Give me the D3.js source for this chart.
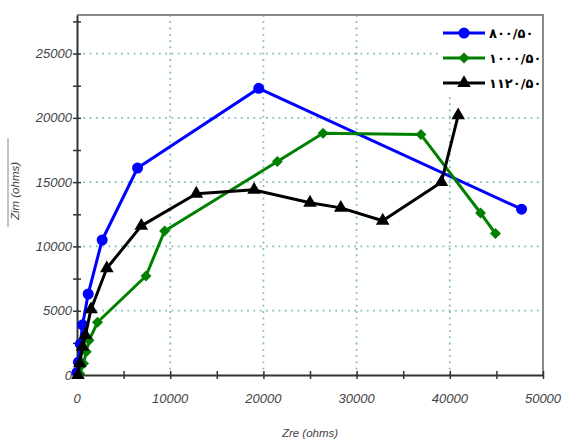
<!DOCTYPE html>
<html>
<head>
<meta charset="utf-8">
<script src="https://cdn.jsdelivr.net/npm/d3@7"></script>
<style>
  body { margin: 0; background: #fff; }
  svg { display: block; }
</style>
</head>
<body>
<div class="visHolder"></div>
<script>
// Series data (Zre, Zim in ohms)
const blueX = [0, 150, 350, 600, 1200, 2700, 6500, 19500, 47700];
const blueY = [200, 1000, 2400, 3900, 6300, 10500, 16100, 22300, 12900];

const greenX = [300, 700, 1000, 1300, 2200, 7400, 9400, 21500, 26400, 36900, 43300, 44900];
const greenY = [100, 900, 1800, 2700, 4100, 7700, 11200, 16600, 18800, 18700, 12600, 11000];

const blackX = [100, 300, 600, 900, 1500, 3200, 6900, 12800, 19000, 25000, 28300, 32800, 39100, 40900];
const blackY = [0, 900, 2200, 3100, 5100, 8300, 11600, 14100, 14400, 13400, 13000, 12000, 15000, 20200];

const seriesNames = ["۸۰۰/۵۰", "۱۰۰۰/۵۰", "۱۱۲۰/۵۰"];
const xTicks = [0, 10000, 20000, 30000, 40000, 50000];
const yTicks = [0, 5000, 10000, 15000, 20000, 25000];

const margin = {top: 15, right: 19, bottom: 66, left: 77},
    width = 562 - margin.left - margin.right,
    height = 441 - margin.top - margin.bottom;

const x = d3.scaleLinear().domain([0, 50000]).range([0, width]);
const y = d3.scaleLinear().domain([0, 28000]).range([height, 0]);

const svg = d3.select(".visHolder").append("svg")
    .attr("width", 562)
    .attr("height", 441)
  .append("g")
    .attr("transform", "translate(" + margin.left + "," + margin.top + ")");

// dotted grid
svg.selectAll(".vgrid")
    .data(xTicks.filter(d => d > 0 && d < 50000))
    .enter().append("line")
    .attr("x1", d => x(d)).attr("x2", d => x(d))
    .attr("y1", 0).attr("y2", height)
    .attr("stroke", "#86bcbc").attr("stroke-width", 1.8)
    .attr("stroke-dasharray", "1.8,4.5");
svg.selectAll(".hgrid")
    .data(yTicks.filter(d => d > 0))
    .enter().append("line")
    .attr("x1", 0).attr("x2", width)
    .attr("y1", d => y(d)).attr("y2", d => y(d))
    .attr("stroke", "#86bcbc").attr("stroke-width", 1.8)
    .attr("stroke-dasharray", "1.8,4.5");

// frame (top & right)
svg.append("path")
    .attr("d", `M0,0H${width}V${height}`)
    .attr("fill", "none")
    .attr("stroke", "#8a8a8a")
    .attr("stroke-width", 2);

// axes
const xAxis = svg.append("g")
    .attr("transform", "translate(0," + height + ")")
    .call(d3.axisBottom(x).tickValues(d3.range(0, 50001, 5000)).tickSize(0).tickFormat(""));
xAxis.select(".domain").attr("stroke", "#333").attr("stroke-width", 2);
xAxis.selectAll(".tick line").attr("y1", -4).attr("y2", 4).attr("stroke", "#333").attr("stroke-width", 1.5);

const yAxis = svg.append("g")
    .call(d3.axisLeft(y).tickValues(d3.range(0, 27501, 2500)).tickSize(0).tickFormat(""));
yAxis.select(".domain").attr("stroke", "#333").attr("stroke-width", 2);
yAxis.selectAll(".tick line").attr("x1", -4).attr("x2", 4).attr("stroke", "#333").attr("stroke-width", 1.5);

// tick labels
svg.selectAll(".xl")
    .data(xTicks)
    .enter().append("text")
    .attr("x", d => x(d))
    .attr("y", height + 28)
    .attr("text-anchor", "middle")
    .style("font-family", "Liberation Sans")
    .style("font-style", "italic")
    .style("font-size", "13px")
    .attr("fill", "#444")
    .text(d => d);
svg.selectAll(".yl")
    .data(yTicks)
    .enter().append("text")
    .attr("x", -5)
    .attr("y", d => y(d) + 4.5)
    .attr("text-anchor", "end")
    .style("font-family", "Liberation Sans")
    .style("font-style", "italic")
    .style("font-size", "13px")
    .attr("fill", "#444")
    .text(d => d);

// axis titles
svg.append("text")
    .attr("x", width / 2)
    .attr("y", height + 62)
    .attr("text-anchor", "middle")
    .style("font-family", "Liberation Sans")
    .style("font-style", "italic")
    .style("font-size", "11.5px")
    .attr("fill", "#444")
    .text("Zre (ohms)");
svg.append("text")
    .attr("transform", "translate(" + (-58) + "," + 176 + ") rotate(-90)")
    .attr("text-anchor", "middle")
    .style("font-family", "Liberation Sans")
    .style("font-style", "italic")
    .style("font-size", "11.5px")
    .attr("fill", "#444")
    .text("Zim (ohms)");
svg.append("line")
    .attr("x1", -69).attr("x2", -69)
    .attr("y1", 123).attr("y2", 212)
    .attr("stroke", "#888").attr("stroke-width", 1);

// series
const series = [
  {xs: blueX, ys: blueY, color: "#0000ff", symbol: d3.symbolCircle, size: 95, rot: 0},
  {xs: greenX, ys: greenY, color: "#008000", symbol: d3.symbolSquare, size: 60, rot: 45},
  {xs: blackX, ys: blackY, color: "#000000", symbol: d3.symbolTriangle, size: 80, rot: 0}
];

const line = d3.line().x(d => x(d[0])).y(d => y(d[1]));

series.forEach(s => {
  const pts = s.xs.map((v, i) => [v, s.ys[i]]);
  svg.append("path")
      .datum(pts)
      .attr("d", line)
      .attr("fill", "none")
      .attr("stroke", s.color)
      .attr("stroke-width", 3)
      .attr("stroke-linejoin", "round");
  svg.selectAll(null)
      .data(pts)
      .enter().append("path")
      .attr("d", d3.symbol().type(s.symbol).size(s.size))
      .attr("transform", d => "translate(" + x(d[0]) + "," + y(d[1]) + ") rotate(" + s.rot + ")")
      .attr("fill", s.color);
});

// legend
const legend = svg.append("g");
legend.append("rect")
    .attr("x", 362).attr("y", 1)
    .attr("width", width - 363).attr("height", 80)
    .attr("fill", "#fff");
series.forEach((s, i) => {
  const ly = 18 + i * 25;
  legend.append("line")
      .attr("x1", 366).attr("x2", 408)
      .attr("y1", ly).attr("y2", ly)
      .attr("stroke", s.color).attr("stroke-width", 3);
  legend.append("path")
      .attr("d", d3.symbol().type(s.symbol).size(s.size))
      .attr("transform", "translate(387," + ly + ") rotate(" + s.rot + ")")
      .attr("fill", s.color);
  legend.append("text")
      .attr("x", 412)
      .attr("y", ly + 5)
      .style("font-family", "DejaVu Sans")
      .style("font-weight", "bold")
      .style("font-size", "13px")
      .attr("fill", "#000")
      .text(seriesNames[i]);
});
</script>
</body>
</html>
